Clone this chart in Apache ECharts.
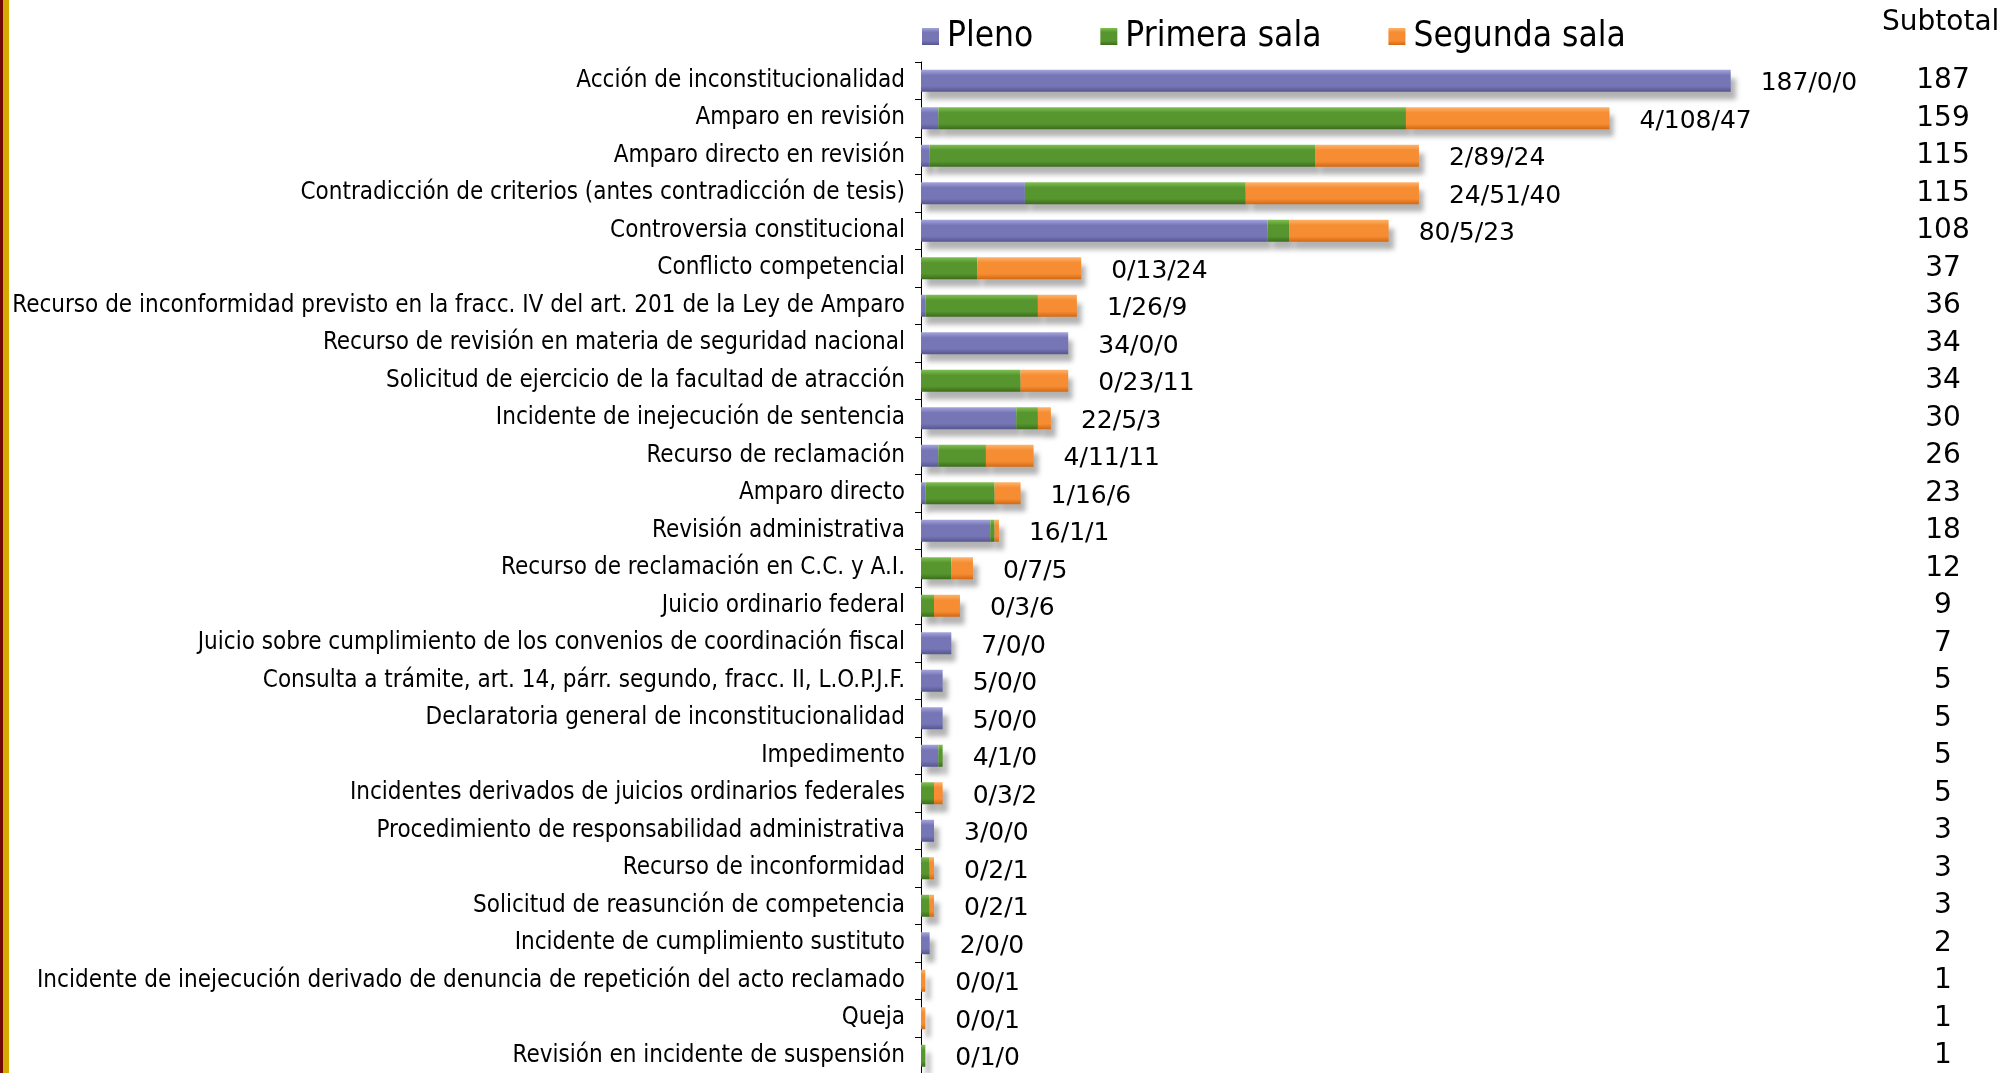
<!DOCTYPE html>
<html>
<head>
<meta charset="utf-8">
<script src="https://cdn.jsdelivr.net/npm/echarts@6/dist/echarts.min.js"></script>
<style>
html,body{margin:0;padding:0;background:#fff;}
#c{width:2008px;height:1073px;}
</style>
</head>
<body>
<div id="c"></div>
<script>
const categories = [
  "Acción de inconstitucionalidad",
  "Amparo en revisión",
  "Amparo directo en revisión",
  "Contradicción de criterios (antes contradicción de tesis)",
  "Controversia constitucional",
  "Conflicto competencial",
  "Recurso de inconformidad previsto en la fracc. IV del art. 201 de la Ley de Amparo",
  "Recurso de revisión en materia de seguridad nacional",
  "Solicitud de ejercicio de la facultad de atracción",
  "Incidente de inejecución de sentencia",
  "Recurso de reclamación",
  "Amparo directo",
  "Revisión administrativa",
  "Recurso de reclamación en C.C. y A.I.",
  "Juicio ordinario federal",
  "Juicio sobre cumplimiento de los convenios de coordinación fiscal",
  "Consulta a trámite, art. 14, párr. segundo, fracc. II, L.O.P.J.F.",
  "Declaratoria general de inconstitucionalidad",
  "Impedimento",
  "Incidentes derivados de juicios ordinarios federales",
  "Procedimiento de responsabilidad administrativa",
  "Recurso de inconformidad",
  "Solicitud de reasunción de competencia",
  "Incidente de cumplimiento sustituto",
  "Incidente de inejecución derivado de denuncia de repetición del acto reclamado",
  "Queja",
  "Revisión en incidente de suspensión"
];
const pleno   = [187, 4, 2, 24, 80, 0, 1, 34, 0, 22, 4, 1, 16, 0, 0, 7, 5, 5, 4, 0, 3, 0, 0, 2, 0, 0, 0];
const primera = [0, 108, 89, 51, 5, 13, 26, 0, 23, 5, 11, 16, 1, 7, 3, 0, 0, 0, 1, 3, 0, 2, 2, 0, 0, 0, 1];
const segunda = [0, 47, 24, 40, 23, 24, 9, 0, 11, 3, 11, 6, 1, 5, 6, 0, 0, 0, 0, 2, 0, 1, 1, 0, 1, 1, 0];
const subtotals = [187, 159, 115, 115, 108, 37, 36, 34, 34, 30, 26, 23, 18, 12, 9, 7, 5, 5, 5, 5, 3, 3, 3, 2, 1, 1, 1];
const seriesNames = ["Pleno", "Primera sala", "Segunda sala"];

const chart = echarts.init(document.getElementById('c'), null, {renderer: 'canvas'});

function grad(top, mid, bot) {
  return new echarts.graphic.LinearGradient(0, 0, 0, 1, [
    {offset: 0, color: top},
    {offset: 0.25, color: mid},
    {offset: 0.75, color: mid},
    {offset: 1, color: bot}
  ]);
}
const colors = [
  grad('#a4a4dc', '#7676b6', '#55558e'),
  grad('#80bf50', '#57962e', '#3b6c1c'),
  grad('#fdb36c', '#f68d33', '#d46812')
];

const condFont = "'DejaVu Sans Condensed', 'Liberation Sans', sans-serif";
const sansFont = "'DejaVu Sans', Verdana, sans-serif";

function barSeries(idx, data, withLabel) {
  const s = {
    name: seriesNames[idx],
    type: 'bar',
    stack: 'total',
    barWidth: 22,
    data: data,
    itemStyle: {
      color: colors[idx],
      shadowColor: 'rgba(0,0,0,0.3)',
      shadowBlur: 5,
      shadowOffsetX: 5,
      shadowOffsetY: 8
    },
    emphasis: {disabled: true},
    animation: false
  };
  if (withLabel) {
    s.label = {
      show: true,
      position: 'right',
      distance: 30,
      color: '#000',
      fontFamily: sansFont,
      fontSize: 25,
      offset: [0, 3],
      formatter: p => pleno[p.dataIndex] + '/' + primera[p.dataIndex] + '/' + segunda[p.dataIndex]
    };
  }
  return s;
}

const option = {
  backgroundColor: '#ffffff',
  animation: false,
  title: {
    text: 'Subtotal',
    left: 1882,
    top: 9,
    padding: 0,
    textStyle: {fontFamily: sansFont, fontSize: 28, fontWeight: 'normal', color: '#000'}
  },
  legend: {
    data: seriesNames,
    left: 917,
    top: 14,
    icon: 'rect',
    itemWidth: 17,
    itemHeight: 17,
    itemGap: 67,
    textStyle: {fontFamily: condFont, fontSize: 35, color: '#000', padding: [0, 0, 0, 3]}
  },
  grid: {
    left: 921,
    right: 221,
    top: 62,
    height: 1012.5,
    containLabel: false,
    outerBoundsMode: 'none'
  },
  xAxis: {
    type: 'value',
    min: 0,
    max: 200,
    show: false,
    splitLine: {show: false}
  },
  yAxis: [
    {
      type: 'category',
      inverse: true,
      data: categories,
      axisLine: {show: true, lineStyle: {color: '#000', width: 1}},
      axisTick: {show: true, length: 6, lineStyle: {color: '#000'}},
      axisLabel: {
        margin: 16,
        color: '#000',
        fontFamily: condFont,
        fontSize: 24,
        interval: 0,
        padding: [10, 0, 0, 0]
      }
    },
    {
      type: 'category',
      inverse: true,
      position: 'right',
      data: subtotals.map(String),
      axisLine: {show: false},
      axisTick: {show: false},
      axisLabel: {
        margin: 156,
        align: 'center',
        color: '#000',
        fontFamily: sansFont,
        fontSize: 28,
        interval: 0,
        padding: [0, 0, 6, 0]
      }
    }
  ],
  graphic: [
    {type: 'rect', left: 0, top: 0, shape: {width: 3, height: 1073}, style: {fill: '#6e0a0a'}},
    {type: 'rect', left: 3, top: 0, shape: {width: 6, height: 1073}, style: {fill: '#d6aa00'}}
  ],
  series: [
    barSeries(0, pleno, false),
    barSeries(1, primera, false),
    barSeries(2, segunda, true)
  ]
};
chart.setOption(option);
</script>
</body>
</html>
